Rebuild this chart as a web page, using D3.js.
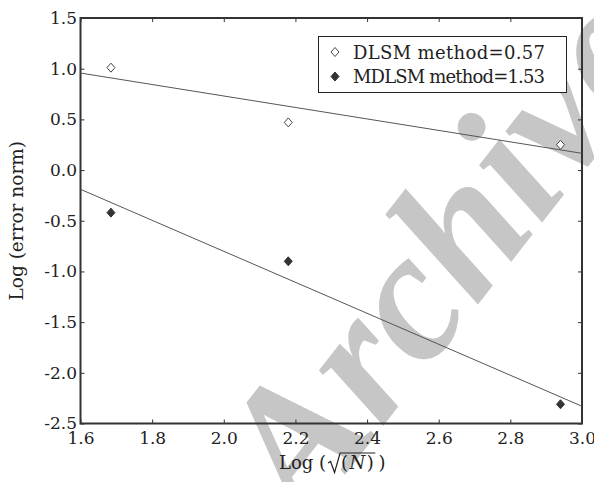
<!DOCTYPE html>
<html>
<head>
<meta charset="utf-8">
<script src="https://cdn.jsdelivr.net/npm/d3@7"></script>
<style>
  body { margin: 0; background: #fff; }
  svg { display: block; }
  text { fill: #222; }
</style>
</head>
<body>
<svg id="chart" width="594" height="482"></svg>
<script>
// values
const xTicks = [1.6, 1.8, 2.0, 2.2, 2.4, 2.6, 2.8, 3.0];
const yTicks = [-2.5, -2.0, -1.5, -1.0, -0.5, 0.0, 0.5, 1.0, 1.5];
const logSqrtN = [1.685, 2.18, 2.94];
const dlsmErr = [1.01, 0.47, 0.25];
const mdlsmErr = [-0.42, -0.90, -2.31];
const dlsmFit = [[1.6, 0.957], [3.0, 0.165]];
const mdlsmFit = [[1.6, -0.19], [3.0, -2.33]];
const legendLabels = ['DLSM method=0.57', 'MDLSM method=1.53'];

const serif = '"DejaVu Serif", serif';
const svg = d3.select('#chart');
const plotL = 80.5, plotR = 582, plotT = 18, plotB = 423.5;

// watermark, under the chart
svg.append('text')
	.attr('transform', 'translate(305,526) rotate(-52)')
	.style('font-family', '"Liberation Serif", "Times New Roman", serif')
	.style('font-weight', 'bold').style('font-style', 'italic')
	.style('font-size', '185px').style('fill', '#c6c6c6')
	.text('Archive');

const x = d3.scaleLinear().domain([1.6, 3.0]).range([plotL, plotR]);
const y = d3.scaleLinear().domain([-2.5, 1.5]).range([plotB, plotT]);
const fmt = d => d.toFixed(1);

// axes, ticks pointing inward
const gx = svg.append('g').attr('transform', `translate(0,${plotB})`)
	.call(d3.axisBottom(x).tickValues(xTicks).tickFormat(fmt).tickSize(-4).tickPadding(8));
const gxt = svg.append('g').attr('transform', `translate(0,${plotT})`)
	.call(d3.axisTop(x).tickValues(xTicks).tickFormat('').tickSize(-4));
const gy = svg.append('g').attr('transform', `translate(${plotL},0)`)
	.call(d3.axisLeft(y).tickValues(yTicks).tickFormat(fmt).tickSize(-4).tickPadding(3.5));
const gyr = svg.append('g').attr('transform', `translate(${plotR},0)`)
	.call(d3.axisRight(y).tickValues(yTicks).tickFormat('').tickSize(-4));

[gx, gxt, gy, gyr].forEach(g => {
	g.select('.domain').remove();
	g.selectAll('.tick line').attr('stroke', '#333').attr('stroke-width', 1);
	g.selectAll('.tick text').attr('font-size', 17).attr('font-family', serif).attr('fill', '#222');
});

svg.append('rect')
	.attr('x', plotL).attr('y', plotT)
	.attr('width', plotR - plotL).attr('height', plotB - plotT)
	.attr('fill', 'none').attr('stroke', '#333').attr('stroke-width', 2);

// fit lines
const line = d3.line().x(d => x(d[0])).y(d => y(d[1]));
[dlsmFit, mdlsmFit].forEach(f => {
	svg.append('path').attr('d', line(f))
		.attr('fill', 'none').attr('stroke', '#555').attr('stroke-width', 1);
});

const diamond = (cx, cy) => `M${cx},${cy - 4.5}L${cx + 4},${cy}L${cx},${cy + 4.5}L${cx - 4},${cy}Z`;

svg.append('g').selectAll('path').data(logSqrtN).join('path')
	.attr('d', (d, i) => diamond(x(d), y(dlsmErr[i])))
	.attr('fill', '#fff').attr('stroke', '#444').attr('stroke-width', 1);

svg.append('g').selectAll('path').data(logSqrtN).join('path')
	.attr('d', (d, i) => diamond(x(d), y(mdlsmErr[i])))
	.attr('fill', '#333').attr('stroke', '#333').attr('stroke-width', 1);

// legend
svg.append('rect').attr('x', 318.5).attr('y', 36.5).attr('width', 248).attr('height', 56)
	.attr('fill', '#fff').attr('stroke', '#222').attr('stroke-width', 1);
legendLabels.forEach((t, i) => {
	const cy = 52 + i * 24.5;
	svg.append('path').attr('d', diamond(335, cy))
		.attr('fill', i ? '#333' : '#fff').attr('stroke', i ? '#333' : '#444');
	svg.append('text').attr('x', 353).attr('y', cy + 6.5).attr('font-family', serif)
		.attr('font-size', 18).attr('textLength', 192).attr('lengthAdjust', 'spacing').text(t);
});

// axis titles
svg.append('text')
	.attr('transform', `translate(23,${(plotT + plotB) / 2}) rotate(-90)`)
	.attr('text-anchor', 'middle').attr('font-size', 18.5).attr('font-family', serif)
	.text('Log (error norm)');

const base = 469;
const t1 = svg.append('text').attr('x', 279).attr('y', base).attr('font-size', 18).attr('font-family', serif).text('Log (');
let cx = 279 + t1.node().getComputedTextLength() + 2;
const radX = cx;
cx += 13;
const t2 = svg.append('text').attr('x', cx).attr('y', base).attr('font-size', 18).attr('font-family', serif)
	.attr('letter-spacing', 1.5);
t2.append('tspan').text('(');
t2.append('tspan').attr('font-style', 'italic').text('N');
t2.append('tspan').text(')');
const radEnd = cx + t2.node().getComputedTextLength();
svg.append('path')
	.attr('d', `M${radX},${base - 6}L${radX + 2.5},${base - 7.5}L${radX + 6.5},${base + 3.5}L${radX + 12},${base - 16}L${radEnd},${base - 16}`)
	.attr('fill', 'none').attr('stroke', '#222').attr('stroke-width', 1.2);
svg.append('text').attr('x', radEnd + 3).attr('y', base).attr('font-size', 18).attr('font-family', serif).text(')');
</script>
</body>
</html>
